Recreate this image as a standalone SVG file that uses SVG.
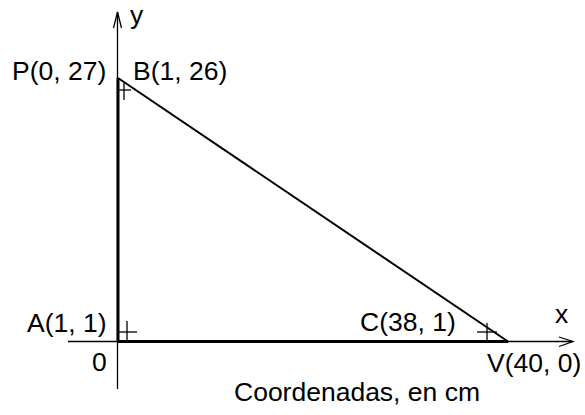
<svg xmlns="http://www.w3.org/2000/svg" width="585" height="415" viewBox="0 0 585 415">
<style>
text{font-family:"Liberation Sans",Arial,sans-serif;font-size:26.5px;fill:#000}
.axis{stroke:#000;stroke-width:1.3;fill:none}
.thick{stroke:#000;stroke-width:3;fill:none}
.hyp{stroke:#000;stroke-width:2;fill:none}
.tick{stroke:#000;stroke-width:1.3;fill:none}
</style>
<rect width="585" height="415" fill="#fff"/>
<g id="connectors">
<line class="axis" x1="117.5" y1="12" x2="117.5" y2="389"/>
<polyline class="axis" points="113.5,28 117.5,12 121.5,28"/>
<line class="axis" x1="68" y1="341.5" x2="572" y2="341.5"/>
<polyline class="axis" points="559,337 573,341.5 559,346.5"/>
<line class="thick" x1="118" y1="78" x2="118" y2="341.5"/>
<line class="thick" x1="118" y1="341.5" x2="508" y2="341.5"/>
<line class="hyp" x1="118" y1="78" x2="508" y2="341.5"/>
</g>
<g id="tickB"><line class="tick" x1="124" y1="82" x2="124" y2="100"/><line class="tick" x1="118" y1="90" x2="131" y2="90"/></g>
<g id="tickA"><line class="tick" x1="127" y1="321" x2="127" y2="341"/><line class="tick" x1="118" y1="332" x2="137" y2="332"/></g>
<g id="tickC"><line class="tick" x1="487" y1="323" x2="487" y2="341"/><line class="tick" x1="477" y1="332" x2="497" y2="332"/></g>
<g id="labels">
<text x="130" y="24">y</text>
<text x="12" y="80">P(0, 27)</text>
<text x="133" y="80">B(1, 26)</text>
<text x="27" y="332">A(1, 1)</text>
<text x="92" y="371">0</text>
<text x="360" y="331">C(38, 1)</text>
<text x="555" y="323">x</text>
<text x="487" y="372">V(40, 0)</text>
<text x="234" y="401">Coordenadas, en cm</text>
</g>
</svg>
